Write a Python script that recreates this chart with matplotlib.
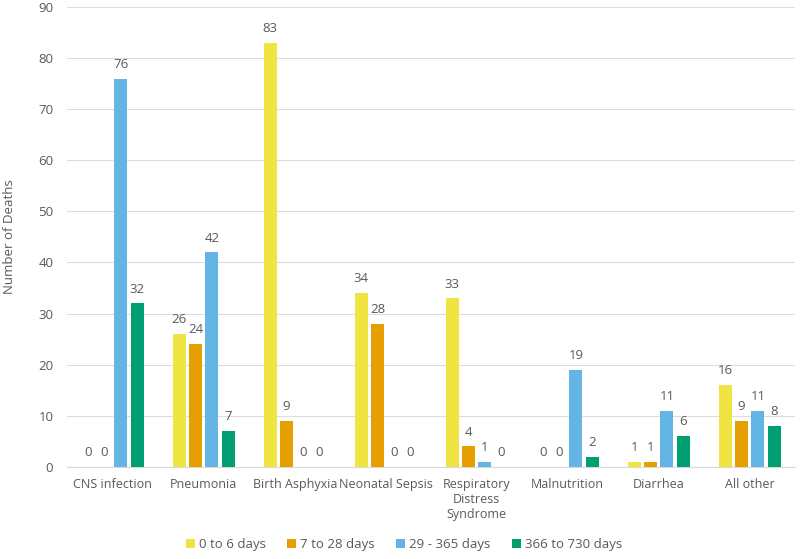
import numpy as np
import matplotlib.pyplot as plt

plt.rcParams['font.family'] = ['Open Sans', 'DejaVu Sans']

categories = ['CNS infection', 'Pneumonia', 'Birth Asphyxia', 'Neonatal Sepsis',
              'Respiratory\nDistress\nSyndrome', 'Malnutrition', 'Diarrhea', 'All other']
series_names = ['0 to 6 days', '7 to 28 days', '29 - 365 days', '366 to 730 days']
d0_6 = [0, 26, 83, 34, 33, 0, 1, 16]
d7_28 = [0, 24, 9, 28, 4, 0, 1, 9]
d29_365 = [76, 42, 0, 0, 1, 19, 11, 11]
d366_730 = [32, 7, 0, 0, 0, 2, 6, 8]
series = [d0_6, d7_28, d29_365, d366_730]
colors = ['#F0E442', '#E69F00', '#65B4E6', '#009E73']

text_col = '#595959'
fig = plt.figure(figsize=(8, 5.59), dpi=100)
ax = fig.add_axes([0.084, 0.165, 0.91, 0.8225])

x = np.arange(len(categories))
step = 0.18
w = 0.145
for i, (vals, c, name) in enumerate(zip(series, colors, series_names)):
    pos = x + (i - 1.5) * step
    ax.bar(pos, vals, w, color=c, label=name, zorder=3)
    for p, v in zip(pos, vals):
        ax.text(p, v + 1.5, str(v), ha='center', va='bottom', fontsize=9.5, color=text_col)

ax.set_xlim(-0.5, len(categories) - 0.5)
ax.set_ylim(0, 90)
ax.set_yticks(range(0, 91, 10))
ax.set_xticks(x)
ax.set_xticklabels(categories, va='top', fontsize=9)
ax.tick_params(axis='both', length=0, colors=text_col)
ax.tick_params(axis='y', labelsize=9.5, pad=10)
ax.tick_params(axis='x', pad=8)
ax.grid(axis='y', color='#DDDDDD', linewidth=0.8, zorder=0)
for s in ['top', 'right', 'left']:
    ax.spines[s].set_visible(False)
ax.spines['bottom'].set_color('#D9D9D9')
ax.set_ylabel('Number of Deaths', fontsize=9.5, color=text_col, labelpad=16)

fig.legend(loc='lower center', bbox_to_anchor=(0.505, -0.007), ncol=4, frameon=False,
           fontsize=9.5, handlelength=0.7, handleheight=0.7, handletextpad=0.3,
           columnspacing=1.6, labelcolor=text_col)

fig.savefig('out.png', dpi=100)
